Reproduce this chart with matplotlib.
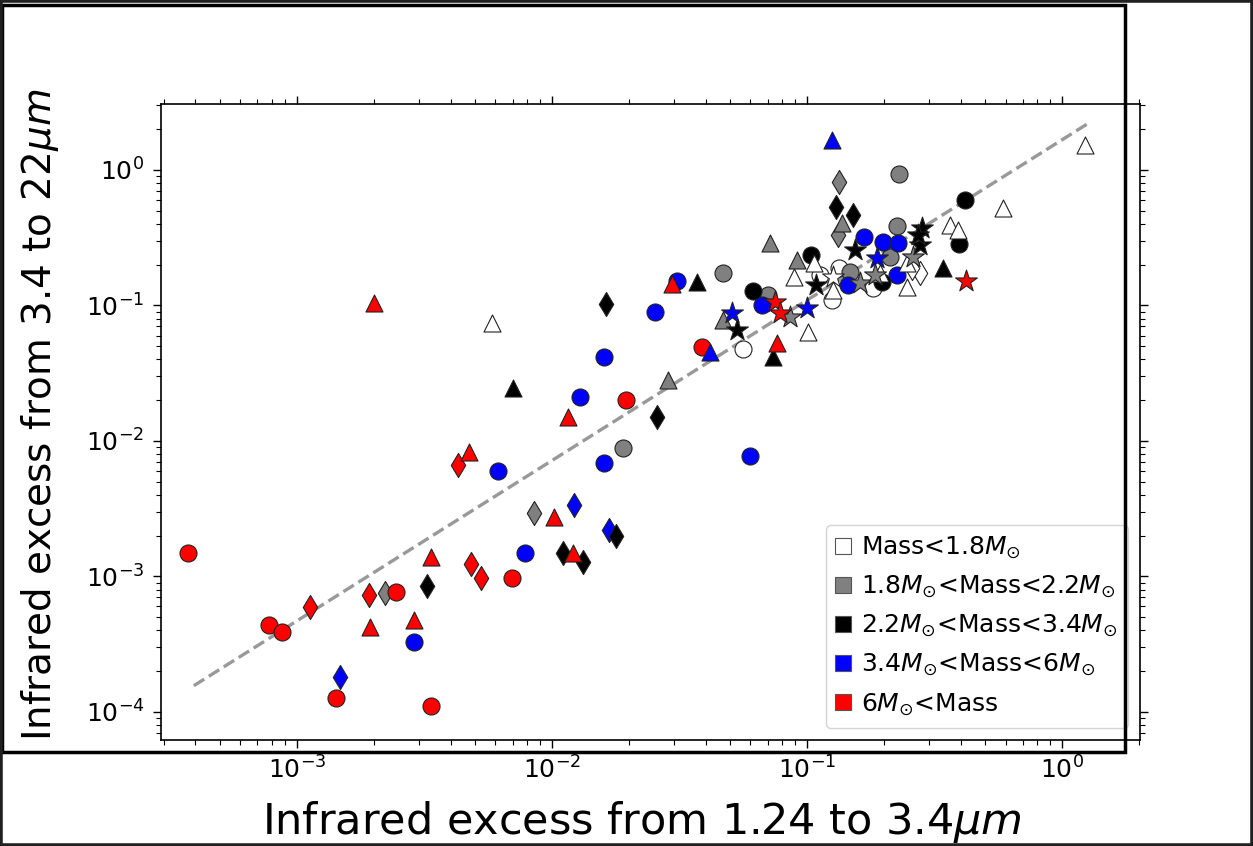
import matplotlib
matplotlib.use("Agg")
import matplotlib.pyplot as plt
from matplotlib.lines import Line2D
from matplotlib.patches import Rectangle

# ---------------- data ----------------
# Mass < 1.8 Msun (white)
white_circle_x = [5.61e-2, 0.125, 0.133, 0.182, 0.112]
white_circle_y = [4.77e-2, 0.110, 0.189, 0.135, 0.168]
white_tri_x = [5.82e-3, 0.101, 8.89e-2, 0.106, 0.126, 0.193, 0.247, 0.247, 0.364, 0.391, 0.587, 1.23]
white_tri_y = [7.43e-2, 6.37e-2, 0.162, 0.206, 0.130, 0.174, 0.206, 0.137, 0.393, 0.361, 0.524, 1.53]
white_dia_x = [0.277, 0.258]
white_dia_y = [0.174, 0.189]
white_star_x = [0.126]
white_star_y = [0.162]

# 1.8 < Mass < 2.2 (gray)
gray_circle_x = [1.90e-2, 4.69e-2, 7.03e-2, 0.230, 0.225, 0.212, 0.148]
gray_circle_y = [8.88e-3, 0.174, 0.119, 0.934, 0.386, 0.228, 0.177]
gray_tri_x = [2.85e-2, 4.69e-2, 7.16e-2, 9.13e-2, 0.137]
gray_tri_y = [2.82e-2, 7.82e-2, 0.289, 0.217, 0.406]
gray_dia_x = [2.21e-3, 8.50e-3, 0.133, 0.132]
gray_dia_y = [7.55e-4, 2.94e-3, 0.815, 0.331]
gray_star_x = [8.58e-2, 0.161, 0.260, 0.185]
gray_star_y = [8.22e-2, 0.147, 0.228, 0.168]

# 2.2 < Mass < 3.4 (black)
black_circle_x = [6.14e-2, 0.104, 0.417, 0.395, 0.197]
black_circle_y = [0.128, 0.236, 0.601, 0.284, 0.149]
black_tri_x = [7.03e-3, 3.70e-2, 7.35e-2, 0.341]
black_tri_y = [2.46e-2, 0.149, 4.17e-2, 0.189]
black_dia_x = [3.24e-3, 1.10e-2, 1.32e-2, 1.78e-2, 2.58e-2, 1.63e-2, 0.130, 0.151]
black_dia_y = [8.51e-4, 1.49e-3, 1.28e-3, 1.99e-3, 1.50e-2, 0.103, 0.533, 0.466]
black_star_x = [5.31e-2, 0.108, 0.154, 0.283, 0.277, 0.272]
black_star_y = [6.60e-2, 0.142, 0.257, 0.373, 0.279, 0.331]

# 3.4 < Mass < 6 (blue)
blue_circle_x = [2.87e-3, 6.14e-3, 7.84e-3, 1.29e-2, 1.60e-2, 1.60e-2, 2.54e-2, 3.09e-2,
                 5.98e-2, 6.66e-2, 0.167, 0.199, 0.227, 0.145, 0.225]
blue_circle_y = [3.29e-4, 6.01e-3, 1.49e-3, 2.11e-2, 6.88e-3, 4.17e-2, 8.95e-2, 0.152,
                 7.75e-3, 0.101, 0.320, 0.294, 0.289, 0.142, 0.168]
blue_tri_x = [0.125, 4.17e-2]
blue_tri_y = [1.66, 4.54e-2]
blue_dia_x = [1.47e-3, 1.22e-2, 1.67e-2]
blue_dia_y = [1.81e-4, 3.37e-3, 2.20e-3]
blue_star_x = [5.08e-2, 0.100, 0.188]
blue_star_y = [8.81e-2, 9.59e-2, 0.224]

# 6 < Mass (red)
red_circle_x = [3.74e-4, 7.76e-4, 8.73e-4, 1.42e-3, 2.45e-3, 3.35e-3, 6.97e-3, 1.95e-2, 3.88e-2]
red_circle_y = [1.49e-3, 4.39e-4, 3.89e-4, 1.27e-4, 7.69e-4, 1.11e-4, 9.75e-4, 2.01e-2, 4.94e-2]
red_tri_x = [2.00e-3, 1.93e-3, 2.87e-3, 3.35e-3, 4.73e-3, 1.02e-2, 1.16e-2, 1.21e-2, 2.96e-2, 7.63e-2]
red_tri_y = [0.104, 4.24e-4, 4.78e-4, 1.39e-3, 8.30e-3, 2.75e-3, 1.50e-2, 1.49e-3, 0.145, 5.29e-2]
red_dia_x = [1.12e-3, 1.92e-3, 4.28e-3, 4.81e-3, 5.27e-3]
red_dia_y = [5.96e-4, 7.30e-4, 6.65e-3, 1.24e-3, 9.75e-4]
red_star_x = [0.420, 7.49e-2, 7.84e-2]
red_star_y = [0.152, 0.106, 8.81e-2]

# dashed reference line
line_x = [3.94e-4, 1.29]
line_y = [1.56e-4, 2.26]

legend_labels = [r'Mass<1.8$M_{\odot}$',
                 r'1.8$M_{\odot}$<Mass<2.2$M_{\odot}$',
                 r'2.2$M_{\odot}$<Mass<3.4$M_{\odot}$',
                 r'3.4$M_{\odot}$<Mass<6$M_{\odot}$',
                 r'6$M_{\odot}$<Mass']
legend_colors = ['white', '#808080', 'black', '#0000ff', '#ff0000']

# ---------------- figure ----------------
W, H = 1253, 846
fig = plt.figure(figsize=(W / 100, H / 100), dpi=100)
fig.patch.set_facecolor('white')
ax = fig.add_axes([161 / W, 1 - 740 / H, (1140 - 161) / W, (740 - 104) / H])
ax.set_xscale('log')
ax.set_yscale('log')

ax.plot(line_x, line_y, ls='--', color='#999999', lw=2.4, zorder=1)

S = 150
groups = [
    ('white', white_circle_x, white_circle_y, white_tri_x, white_tri_y, white_dia_x, white_dia_y, white_star_x, white_star_y),
    ('#808080', gray_circle_x, gray_circle_y, gray_tri_x, gray_tri_y, gray_dia_x, gray_dia_y, gray_star_x, gray_star_y),
    ('#0000ff', blue_circle_x, blue_circle_y, blue_tri_x, blue_tri_y, blue_dia_x, blue_dia_y, blue_star_x, blue_star_y),
    ('black', black_circle_x, black_circle_y, black_tri_x, black_tri_y, black_dia_x, black_dia_y, black_star_x, black_star_y),
    ('#ff0000', red_circle_x, red_circle_y, red_tri_x, red_tri_y, red_dia_x, red_dia_y, red_star_x, red_star_y),
]
z = 2
for marker, idx in [('d', 5), ('o', 1), ('^', 3), ('*', 7)]:
    for g in groups:
        col = g[0]
        ax.scatter(g[idx], g[idx + 1], s=S if marker != '*' else S * 1.8, marker=marker,
                   facecolor=col, edgecolor='#222222', linewidth=0.8, zorder=z)
    z += 1

ax.set_xlim(2.93e-4, 2.02)
ax.set_ylim(6.2e-5, 3.07)

ax.tick_params(which='both', direction='out', top=True, right=True, labelsize=18)
ax.tick_params(which='major', length=6, width=1, pad=6)
ax.tick_params(which='minor', length=3.5, width=0.8)
for sp in ax.spines.values():
    sp.set_linewidth(1.2)

handles = [Line2D([], [], marker='s', ls='', markersize=12, markerfacecolor=c,
                  markeredgecolor='#555555', markeredgewidth=0.8) for c in legend_colors]
leg = ax.legend(handles, legend_labels, loc='lower right', fontsize=18,
                handlelength=0.6, handletextpad=0.4, borderpad=0.4, labelspacing=0.5,
                framealpha=0.85, edgecolor='#cccccc')
leg.set_zorder(20)

fig.text(40 / W, 1 - 415 / H, r'Infrared excess from 3.4 to 22$\mu m$', rotation=90,
         ha='center', va='center', fontsize=28)
fig.text(642 / W, 1 - 822 / H, r'Infrared excess from 1.24 to 3.4$\mu m$',
         ha='center', va='center', fontsize=31)

# screenshot framing
fig.add_artist(Rectangle((2 / W, 1 - 752 / H), (1125 - 2) / W, (752 - 5) / H,
                         transform=fig.transFigure, fill=False, lw=2.5, ec='black', zorder=30))
fig.add_artist(Rectangle((0, 0), 1, 1, transform=fig.transFigure, fill=False,
                         lw=4, ec='#202020', zorder=30))

fig.savefig('out.png', dpi=100)
